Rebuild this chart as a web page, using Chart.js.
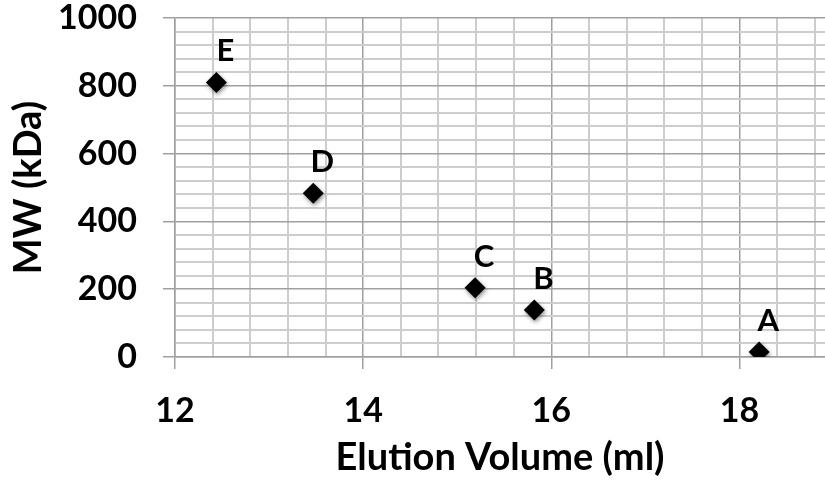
<!DOCTYPE html>
<html>
<head>
<meta charset="utf-8">
<script src="https://cdn.jsdelivr.net/npm/chart.js@4"></script>
<style>
  html, body { margin: 0; padding: 0; background: #fff; overflow: hidden; }
  #wrap { width: 825px; height: 483px; }
</style>
</head>
<body>
<div id="wrap"><canvas id="mwChart" width="825" height="483"></canvas></div>
<script>
const sampleNames = ['A', 'B', 'C', 'D', 'E'];
const elutionVolume = [18.21, 15.82, 15.19, 13.47, 12.44];
const molecularWeight = [15, 139, 204, 483, 810];

const FONT = 'Lato, "Open Sans", sans-serif';
const X_MIN = 12, X_MAX = 18.91, X_MINOR = 0.4, X_MAJOR = 2;
const Y_MIN = 0, Y_MAX = 1000, Y_MINOR = 40, Y_MAJOR = 200;

function isMajor(value, step) {
    const r = Math.abs(value / step - Math.round(value / step));
    return r < 1e-6;
}

// letters above each diamond
const pointLabels = {
    id: 'pointLabels',
    afterDatasetsDraw(chart) {
        const ctx = chart.ctx;
        const meta = chart.getDatasetMeta(0);
        ctx.save();
        ctx.font = 'bold 31px ' + FONT;
        ctx.fillStyle = '#000';
        ctx.textAlign = 'center';
        ctx.textBaseline = 'alphabetic';
        meta.data.forEach((pt, i) => {
            ctx.fillText(sampleNames[i], pt.x + 9, pt.y - 21);
        });
        ctx.restore();
    }
};

// soft shadow under the markers
const markerShadow = {
    id: 'markerShadow',
    beforeDatasetDraw(chart) {
        const ctx = chart.ctx;
        ctx.save();
        ctx.shadowColor = 'rgba(0,0,0,0.45)';
        ctx.shadowBlur = 4;
        ctx.shadowOffsetX = 1;
        ctx.shadowOffsetY = 2;
    },
    afterDatasetDraw(chart) {
        chart.ctx.restore();
    }
};

const points = elutionVolume.map((v, i) => ({ x: v, y: molecularWeight[i] }));

const gridFor = major => ({
    color: c => isMajor(c.tick.value, major) ? '#a0a0a0' : '#cdcdcd',
    lineWidth: c => isMajor(c.tick.value, major) ? 1.5 : 2,
    tickLength: 12,
    tickColor: c => isMajor(c.tick.value, major) ? '#a0a0a0' : 'rgba(0,0,0,0)',
    tickWidth: 1.5
});

new Chart(document.getElementById('mwChart'), {
    type: 'scatter',
    data: {
        datasets: [{
            data: points,
            pointStyle: 'rectRot',
            pointRadius: 10.5,
            pointHoverRadius: 10.5,
            backgroundColor: '#000',
            borderColor: '#000',
            borderWidth: 0
        }]
    },
    options: {
        responsive: false,
        animation: false,
        events: [],
        layout: {
            autoPadding: false,
            padding: { top: 18, right: 0, left: 0, bottom: 0 }
        },
        plugins: {
            legend: { display: false },
            tooltip: { enabled: false }
        },
        scales: {
            x: {
                type: 'linear',
                min: X_MIN,
                max: X_MAX,
                afterBuildTicks(scale) {
                    const ticks = [];
                    for (let i = 0; X_MIN + i * X_MINOR <= X_MAX + 1e-9; i++) {
                        ticks.push({ value: +(X_MIN + i * X_MINOR).toFixed(4) });
                    }
                    scale.ticks = ticks;
                    scale.min = X_MIN;
                    scale.max = X_MAX;
                },
                afterFit(scale) {
                    scale.height = 126;
                    scale.paddingLeft = 0;
                    scale.paddingRight = 0;
                },
                ticks: {
                    autoSkip: false,
                    maxRotation: 0,
                    padding: 22,
                    color: '#000',
                    font: { family: FONT, size: 34, weight: 'bold' },
                    callback: v => isMajor(v, X_MAJOR) ? String(Math.round(v)) : ''
                },
                grid: gridFor(X_MAJOR),
                border: { color: '#a0a0a0', width: 1.5 },
                title: {
                    display: true,
                    text: 'Elution Volume (ml)',
                    color: '#000',
                    font: { family: FONT, size: 38, weight: 'bold' },
                    padding: { top: 0, bottom: 2 }
                }
            },
            y: {
                min: Y_MIN,
                max: Y_MAX,
                afterFit(scale) {
                    scale.width = 175;
                    scale.paddingTop = 0;
                    scale.paddingBottom = 0;
                },
                ticks: {
                    stepSize: Y_MINOR,
                    autoSkip: false,
                    padding: 26,
                    color: '#000',
                    font: { family: FONT, size: 34, weight: 'bold' },
                    callback: v => isMajor(v, Y_MAJOR) ? String(v) : ''
                },
                grid: gridFor(Y_MAJOR),
                border: { color: '#a0a0a0', width: 1.5 },
                title: {
                    display: true,
                    text: 'MW (kDa)',
                    color: '#000',
                    font: { family: FONT, size: 38, weight: 'bold' },
                    padding: { top: 6, bottom: 0 }
                }
            }
        }
    },
    plugins: [markerShadow, pointLabels]
});
</script>
</body>
</html>
